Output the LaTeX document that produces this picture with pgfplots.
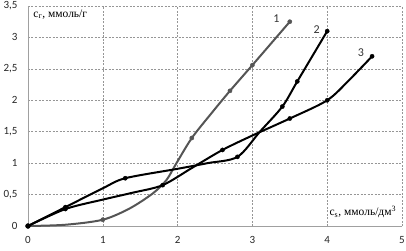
\documentclass[border=0pt]{standalone}
\usepackage{pgfplots}
\pgfplotsset{compat=1.18}
\usepackage{fontspec}
\setmainfont{Carlito}
\newfontfamily\serifcyr{Liberation Serif}
\definecolor{gridgray}{RGB}{150,150,150}
\definecolor{axgray}{RGB}{160,160,160}
\definecolor{curvegray}{RGB}{85,85,85}
\begin{document}
\begin{tikzpicture}
\begin{axis}[
  scale only axis,
  width=374pt, height=220pt,
  xmin=0, xmax=5, ymin=0, ymax=3.5,
  xtick={0,1,2,3,4,5},
  ytick={0,0.5,1,1.5,2,2.5,3,3.5},
  major tick length=0pt,
  grid=major,
  grid style={gridgray, dashed, line width=0.5pt, dash pattern=on 2pt off 1.5pt},
  axis line style={draw=none},
  /pgf/number format/use comma,
  /pgf/number format/assume math mode=true,
  tick label style={font=\fontsize{11}{13}\selectfont, text=black!85},
  xticklabel style={yshift=-7pt},
  yticklabel style={xshift=-7pt},
  clip=false,
]
% axis lines (left and bottom solid)
\addplot[axgray, line width=0.7pt, forget plot] coordinates {(0,0) (5,0)};
\addplot[axgray, line width=0.7pt, forget plot] coordinates {(0,0) (0,3.5)};
% curve 1 (grey)
\addplot[curvegray, line width=2pt, smooth] coordinates {
 (0,0) (0.5,0.02) (1,0.1) (1.36,0.28) (1.67,0.52) (1.85,0.73) (1.98,0.99) (2.19,1.40) (2.45,1.79) (2.7,2.15) (3,2.56) (3.5,3.25)};
\addplot[only marks, mark=*, mark size=2.1pt, curvegray] coordinates {
 (1,0.1) (2.19,1.40) (2.7,2.15) (3,2.56) (3.5,3.25)};
% curve 2 (black)
\addplot[black, line width=2pt, smooth] coordinates {
 (0,0) (0.5,0.3) (1,0.6) (1.3,0.76) (2,0.91) (2.4,1.0) (2.8,1.1) (3.1,1.5) (3.4,1.9) (3.6,2.3) (4,3.1)};
\addplot[only marks, mark=*, mark size=2.1pt, black] coordinates {
 (0.5,0.3) (1.3,0.76) (2.8,1.1) (3.4,1.9) (3.6,2.3) (4,3.1)};
% curve 3 (black)
\addplot[black, line width=2pt, smooth] coordinates {
 (0,0) (0.5,0.27) (1,0.42) (1.4,0.53) (1.8,0.65) (2.2,0.93) (2.6,1.21) (3.0,1.44) (3.5,1.71) (4,2.0) (4.3,2.33) (4.6,2.7)};
\addplot[only marks, mark=*, mark size=2.1pt, black] coordinates {
 (0.5,0.27) (1.8,0.65) (2.6,1.21) (3.5,1.71) (4,2.0) (4.6,2.7)};
\addplot[only marks, mark=*, mark size=2.5pt, black] coordinates {(0,0)};
% curve numbers
\node[font=\fontsize{12}{14}\selectfont, text=black!80] at (axis cs:3.32,3.30) {1};
\node[font=\fontsize{12}{14}\selectfont, text=black!80] at (axis cs:3.86,3.13) {2};
\node[font=\fontsize{12}{14}\selectfont, text=black!80] at (axis cs:4.45,2.76) {3};
% axis labels
\node[anchor=west, inner sep=0pt, font=\serifcyr\fontsize{11.5}{13}\selectfont] at (axis cs:0.07,3.37) {c\textsubscript{г}, ммоль/г};
\node[anchor=west, inner sep=0pt, font=\serifcyr\fontsize{11.5}{13}\selectfont] at (axis cs:4.03,0.22) {c\textsubscript{s}, ммоль/дм\textsuperscript{3}};
\coordinate (A) at (rel axis cs:0,0);
\coordinate (B) at (rel axis cs:1,1);
\end{axis}
\pgfresetboundingbox
\path[use as bounding box] ([shift={(-28pt,-24pt)}]A) rectangle ([shift={(4pt,6pt)}]B);
\end{tikzpicture}
\end{document}
